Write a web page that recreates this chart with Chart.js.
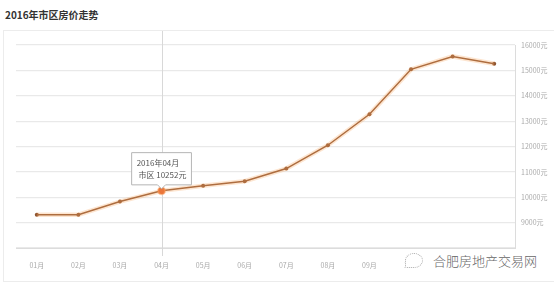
<!DOCTYPE html>
<html>
<head>
<meta charset="utf-8">
<script src="https://cdn.jsdelivr.net/npm/chart.js@4/dist/chart.umd.min.js"></script>
<style>
  html, body { margin: 0; padding: 0; background: #fff; }
  #wrap { position: relative; width: 554px; height: 285px; overflow: hidden; font-family: "Noto Sans CJK SC", sans-serif; }
  #frame { position: absolute; left: 3px; top: 30px; width: 560px; height: 252px; border: 1px solid #ececec; box-sizing: border-box; }
  #title { position: absolute; left: 5px; top: 7px; font-size: 10px; font-weight: bold; color: #333; }
  #chartBox { position: absolute; left: 0; top: 0; width: 554px; height: 285px; }
  #mark { position: absolute; left: 405px; top: 250px; width: 149px; height: 22px; background: #fff; color: #666; font-size: 13px; font-weight: 300; line-height: 22px; }
  #mark span.icon { display: inline-block; width: 16px; height: 13px; margin-right: 10px; border: 1px dotted #aaa; border-radius: 50% 50% 50% 10%; vertical-align: -2px; }
</style>
</head>
<body>
<div id="wrap">
  <div id="frame"></div>
  <div id="title">2016年市区房价走势</div>
  <div id="chartBox"><canvas id="priceChart" width="554" height="285"></canvas></div>
  <div id="mark"><span class="icon"></span>合肥房地产交易网</div>
</div>
<script>
  const months = ['01月', '02月', '03月', '04月', '05月', '06月', '07月', '08月', '09月', '10月', '11月', '12月'];
  const prices = [9310, 9310, 9830, 10252, 10450, 10630, 11130, 12050, 13270, 15040, 15550, 15260];
  const seriesName = '市区';
  const yearLabel = '2016年';
  const activeIndex = 3;

  // vertical guide line through the highlighted month
  const crosshair = {
    id: 'crosshair',
    beforeDatasetsDraw(chart) {
      const pt = chart.getDatasetMeta(1).data[activeIndex];
      if (!pt) return;
      const ctx = chart.ctx;
      ctx.save();
      ctx.strokeStyle = '#d8d8d8';
      ctx.lineWidth = 1;
      ctx.beginPath();
      ctx.moveTo(Math.round(pt.x) + 0.5, 31);
      ctx.lineTo(Math.round(pt.x) + 0.5, chart.chartArea.bottom + 8);
      ctx.stroke();
      ctx.restore();
    }
  };

  const ctx = document.getElementById('priceChart').getContext('2d');
  const chart = new Chart(ctx, {
    type: 'line',
    data: {
      labels: months,
      datasets: [{
        // soft orange glow under the line
        data: prices,
        borderColor: 'rgba(248,170,100,0.3)',
        borderWidth: 4.5,
        pointRadius: 0,
        pointHoverRadius: 0,
        tension: 0
      }, {
        label: seriesName,
        data: prices,
        borderColor: '#8e5430',
        borderWidth: 1.5,
        pointRadius: 2,
        pointBackgroundColor: '#8e5430',
        pointBorderWidth: 0,
        pointHoverRadius: 3.5,
        pointHoverBackgroundColor: '#e4602a',
        pointHoverBorderColor: 'rgba(250,150,80,0.5)',
        pointHoverBorderWidth: 2,
        tension: 0
      }]
    },
    options: {
      responsive: false,
      animation: false,
      events: [],
      layout: { padding: { left: 16, top: 45, right: 0, bottom: 0 } },
      plugins: {
        legend: { display: false },
        title: { display: false },
        tooltip: {
          enabled: true,
          filter: item => item.datasetIndex === 1,
          backgroundColor: '#fff',
          borderColor: '#b5b5b5',
          borderWidth: 1,
          cornerRadius: 0,
          titleColor: '#555',
          bodyColor: '#555',
          titleFont: { family: 'Noto Sans CJK SC', size: 8, weight: 'normal' },
          bodyFont: { family: 'Noto Sans CJK SC', size: 8 },
          titleMarginBottom: 3,
          padding: { left: 5, right: 5, top: 5, bottom: 5 },
          caretSize: 4,
          yAlign: 'bottom',
          xAlign: 'center',
          displayColors: false,
          callbacks: {
            title: items => yearLabel + items[0].label,
            label: item => ' ' + seriesName + ' ' + item.raw + '元'
          }
        }
      },
      scales: {
        x: {
          offset: true,
          grid: { display: false },
          border: { display: true, color: '#dcdcdc' },
          ticks: { color: '#aaa', font: { family: 'Noto Sans CJK SC', size: 7 }, padding: 5, autoSkip: false, maxRotation: 0 },
          afterFit: s => { s.height = 37; }
        },
        y: {
          position: 'right',
          min: 8000,
          max: 16000,
          grid: { color: '#e9e9e9', lineWidth: 1.2, drawTicks: false },
          border: { display: true, color: '#dcdcdc' },
          ticks: {
            stepSize: 1000,
            color: '#aaa',
            font: { family: 'Noto Sans CJK SC', size: 7 },
            padding: 6,
            callback: v => v === 8000 ? '' : v + '元'
          },
          afterFit: s => { s.width = 39; }
        }
      }
    },
    plugins: [crosshair]
  });

  const active = [{ datasetIndex: 1, index: activeIndex }];
  chart.setActiveElements(active);
  const pt = chart.getDatasetMeta(1).data[activeIndex];
  chart.tooltip.setActiveElements(active, { x: pt.x, y: pt.y });
  chart.update();
</script>
</body>
</html>
